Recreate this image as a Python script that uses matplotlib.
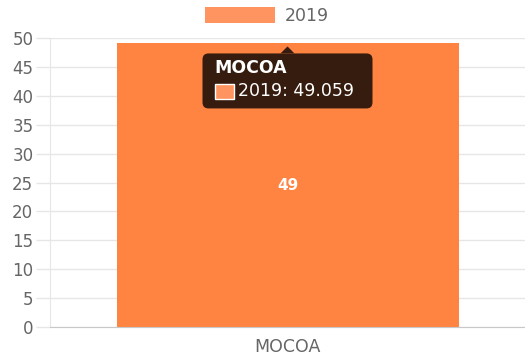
import matplotlib
matplotlib.use('Agg')
import matplotlib.pyplot as plt
from matplotlib.patches import FancyBboxPatch, Polygon, Rectangle

plt.rcParams['font.family'] = ['DejaVu Sans']

# 数据
categories = ['MOCOA']
series_name = '2019'
values = [49.059]
y_ticks = [0, 5, 10, 15, 20, 25, 30, 35, 40, 45, 50]

bar_color = '#FF8442'
legend_color = '#FF9460'
grid_color = '#E6E6E6'
text_color = '#666666'

W, H = 525, 360
fig = plt.figure(figsize=(W / 100, H / 100), dpi=100)
ax = fig.add_axes([50 / W, 1 - 327 / H, 475 / W, 289 / H])

x = list(range(len(categories)))
ax.bar(x, values, width=0.72, color=bar_color, zorder=2)
ax.set_xlim(-0.5, len(categories) - 0.5)
ax.set_ylim(0, 50)

ax.set_yticks(y_ticks)
ax.set_xticks(x)
ax.set_xticklabels(categories)
ax.grid(axis='y', color=grid_color, linewidth=1, zorder=0)
ax.tick_params(axis='y', length=10, width=1, color=grid_color, pad=2,
               labelcolor=text_color, labelsize=12)
ax.tick_params(axis='x', length=0, pad=8, labelcolor=text_color, labelsize=12.5)
for s in ['top', 'right']:
    ax.spines[s].set_visible(False)
ax.spines['left'].set_color(grid_color)
ax.spines['bottom'].set_color('#C8C8C8')

# 柱内数值
for xi, v in zip(x, values):
    ax.text(xi, v / 2, f'{v:.0f}', color='white', fontweight='bold',
            fontsize=11, ha='center', va='center', zorder=3)

# 图例
h = Rectangle((0, 0), 1, 1, facecolor=legend_color, edgecolor='none')
fig.legend([h], [series_name], loc='center', bbox_to_anchor=(267 / W, 1 - 16 / H),
           frameon=False, handlelength=4.0, handleheight=1.0, handletextpad=0.55,
           labelcolor=text_color, fontsize=12.5)

# 提示框
fig.canvas.draw()
ax_px, ay_px = ax.transData.transform((x[0], values[0]))
tip_y = ay_px - 3
box_top = tip_y - 7
box_h = 55
box_w = 170
bx0 = ax_px - box_w / 2
tooltip_bg = '#361C0E'
box = FancyBboxPatch((bx0, box_top - box_h), box_w, box_h,
                     boxstyle='round,pad=0,rounding_size=6',
                     facecolor=tooltip_bg, edgecolor='none', transform=None, zorder=5)
fig.patches.append(box)
caret = Polygon([(ax_px - 7, box_top), (ax_px + 7, box_top), (ax_px, tip_y)],
                closed=True, facecolor=tooltip_bg, edgecolor='none', transform=None, zorder=5)
fig.patches.append(caret)

fig.text((bx0 + 12) / W, (box_top - 15) / H, categories[0], color='white',
         fontweight='bold', fontsize=12.5, ha='left', va='center', zorder=6)
sw = Rectangle((bx0 + 12, box_top - 46), 19, 15, facecolor=legend_color,
               edgecolor='white', linewidth=1, transform=None, zorder=6)
fig.patches.append(sw)
fig.text((bx0 + 35) / W, (box_top - 38) / H, f'{series_name}: {values[0]:.3f}',
         color='white', fontsize=12.5, ha='left', va='center', zorder=6)

fig.savefig('out.png', dpi=100)
